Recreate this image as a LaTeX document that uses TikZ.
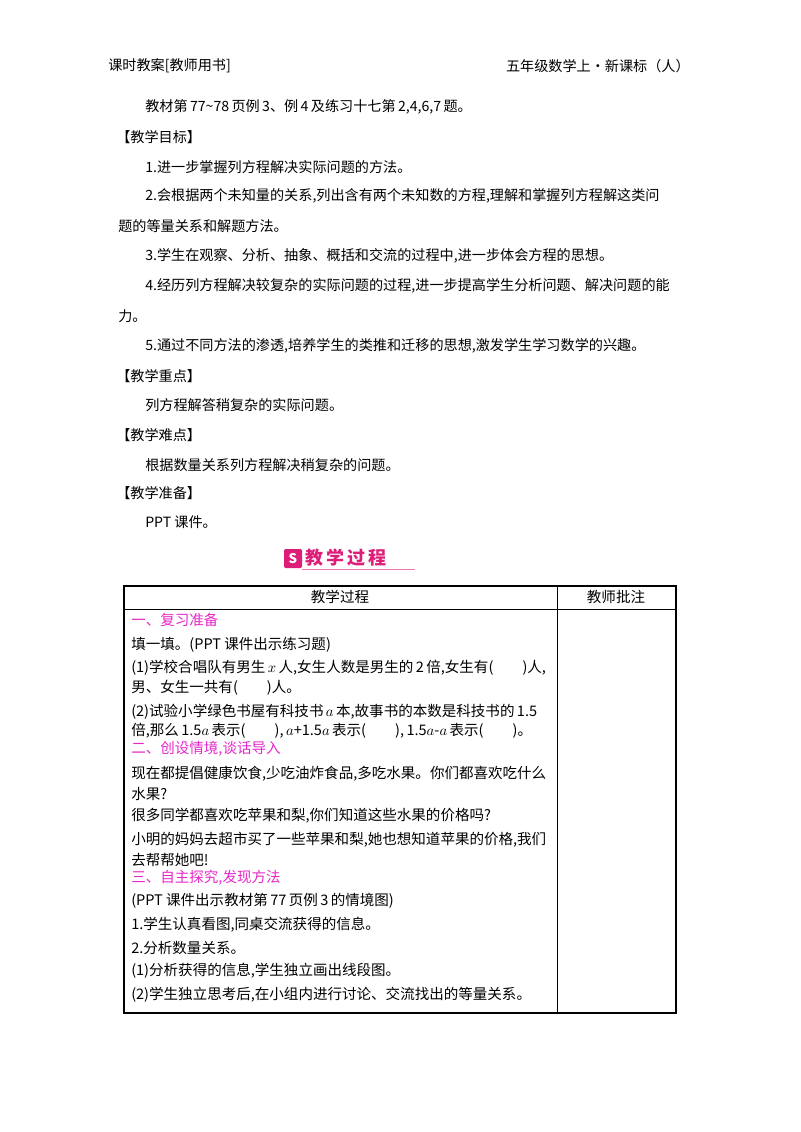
\documentclass[tikz,border=0pt]{standalone}
\usepackage{fontspec}
\setmainfont{Noto Sans CJK SC}
\definecolor{mag}{RGB}{230,40,200}
\definecolor{pk}{RGB}{220,30,120}
\begin{document}
\begin{tikzpicture}[x=0.75pt,y=-0.75pt,
  t/.style={anchor=west,inner sep=0,font=\fontsize{10.6pt}{12pt}\selectfont},
  u/.style={anchor=west,inner sep=0,font=\fontsize{10.9pt}{12pt}\selectfont},
  h/.style={u,text=mag}]
\useasboundingbox (0,0) rectangle (800,1132);
\node[t] (hl) at (108,66) {课时教案[教师用书]};
\node[t,anchor=east] (hr) at (690,66) {五年级数学上·新课标（人）};
\node[t] (a1) at (145,107) {教材第\,77\textasciitilde78\,页例\,3、例\,4\,及练习十七第\,2,4,6,7\,题。};
\node[t] (b0) at (116,137) {【教学目标】};
\node[t] (b1) at (145,167) {1.进一步掌握列方程解决实际问题的方法。};
\node[t] (b2) at (145,196) {2.会根据两个未知量的关系,列出含有两个未知数的方程,理解和掌握列方程解这类问};
\node[t] (b2b) at (118,226) {题的等量关系和解题方法。};
\node[t] (b3) at (145,256) {3.学生在观察、分析、抽象、概括和交流的过程中,进一步体会方程的思想。};
\node[t] (b4) at (145,286) {4.经历列方程解决较复杂的实际问题的过程,进一步提高学生分析问题、解决问题的能};
\node[t] (b4b) at (118,316) {力。};
\node[t] (b5) at (145,346) {5.通过不同方法的渗透,培养学生的类推和迁移的思想,激发学生学习数学的兴趣。};
\node[t] (c0) at (116,376) {【教学重点】};
\node[t] (c1) at (145,405) {列方程解答稍复杂的实际问题。};
\node[t] (d0) at (116,435) {【教学难点】};
\node[t] (d1) at (145,465) {根据数量关系列方程解决稍复杂的问题。};
\node[t] (e0) at (116,493) {【教学准备】};
\node[t] (e1) at (145,522) {PPT 课件。};
% title
\fill[pk,rounded corners=1pt] (284,549) rectangle (302,568);
\node[text=white,font=\bfseries\fontsize{10pt}{10pt}\selectfont,inner sep=0] (ic) at (293,558.5) {S};
\node[anchor=west,inner sep=0,text=pk,font=\bfseries\fontsize{13.5pt}{14pt}\selectfont] (ti) at (305,558) {教\,学\,过\,程};
\draw[pk!60,line width=0.8pt] (302,569.5) -- (415,569.5);
% table
\draw[line width=0.9pt] (124,586) rectangle (676,1013);
\draw[line width=0.6pt] (124,609) -- (676,609);
\draw[line width=0.6pt] (557,586) -- (557,1013);
\node[u,anchor=center] (th1) at (340,597) {教学过程};
\node[u,anchor=center] (th2) at (616,597) {教师批注};
\node[h] (r1) at (131,620) {一、复习准备};
\node[u] (r2) at (131,645) {填一填。(PPT 课件出示练习题)};
\node[u] (r3) at (131,668) {(1)学校合唱队有男生\,$x$\,人,女生人数是男生的\,2\,倍,女生有(\qquad)人,};
\node[u] (r3b) at (131,688) {男、女生一共有(\qquad)人。};
\node[u] (r4) at (131,712) {(2)试验小学绿色书屋有科技书\,$a$\,本,故事书的本数是科技书的\,1.5};
\node[u] (r4b) at (131,731) {倍,那么\,1.5$a$\,表示(\qquad),\,$a$+1.5$a$\,表示(\qquad),\,1.5$a$-$a$\,表示(\qquad)。};
\node[h] (r5) at (131,749) {二、创设情境,谈话导入};
\node[u] (r6) at (131,774) {现在都提倡健康饮食,少吃油炸食品,多吃水果。你们都喜欢吃什么};
\node[u] (r6b) at (131,794) {水果?};
\node[u] (r7) at (131,816) {很多同学都喜欢吃苹果和梨,你们知道这些水果的价格吗?};
\node[u] (r8) at (131,840) {小明的妈妈去超市买了一些苹果和梨,她也想知道苹果的价格,我们};
\node[u] (r8b) at (131,860) {去帮帮她吧!};
\node[h] (r9) at (131,878) {三、自主探究,发现方法};
\node[u] (r10) at (131,901) {(PPT 课件出示教材第\,77\,页例\,3\,的情境图)};
\node[u] (r11) at (131,925) {1.学生认真看图,同桌交流获得的信息。};
\node[u] (r12) at (131,948) {2.分析数量关系。};
\node[u] (r13) at (131,971) {(1)分析获得的信息,学生独立画出线段图。};
\node[u] (r14) at (131,995) {(2)学生独立思考后,在小组内进行讨论、交流找出的等量关系。};
\end{tikzpicture}
\end{document}
